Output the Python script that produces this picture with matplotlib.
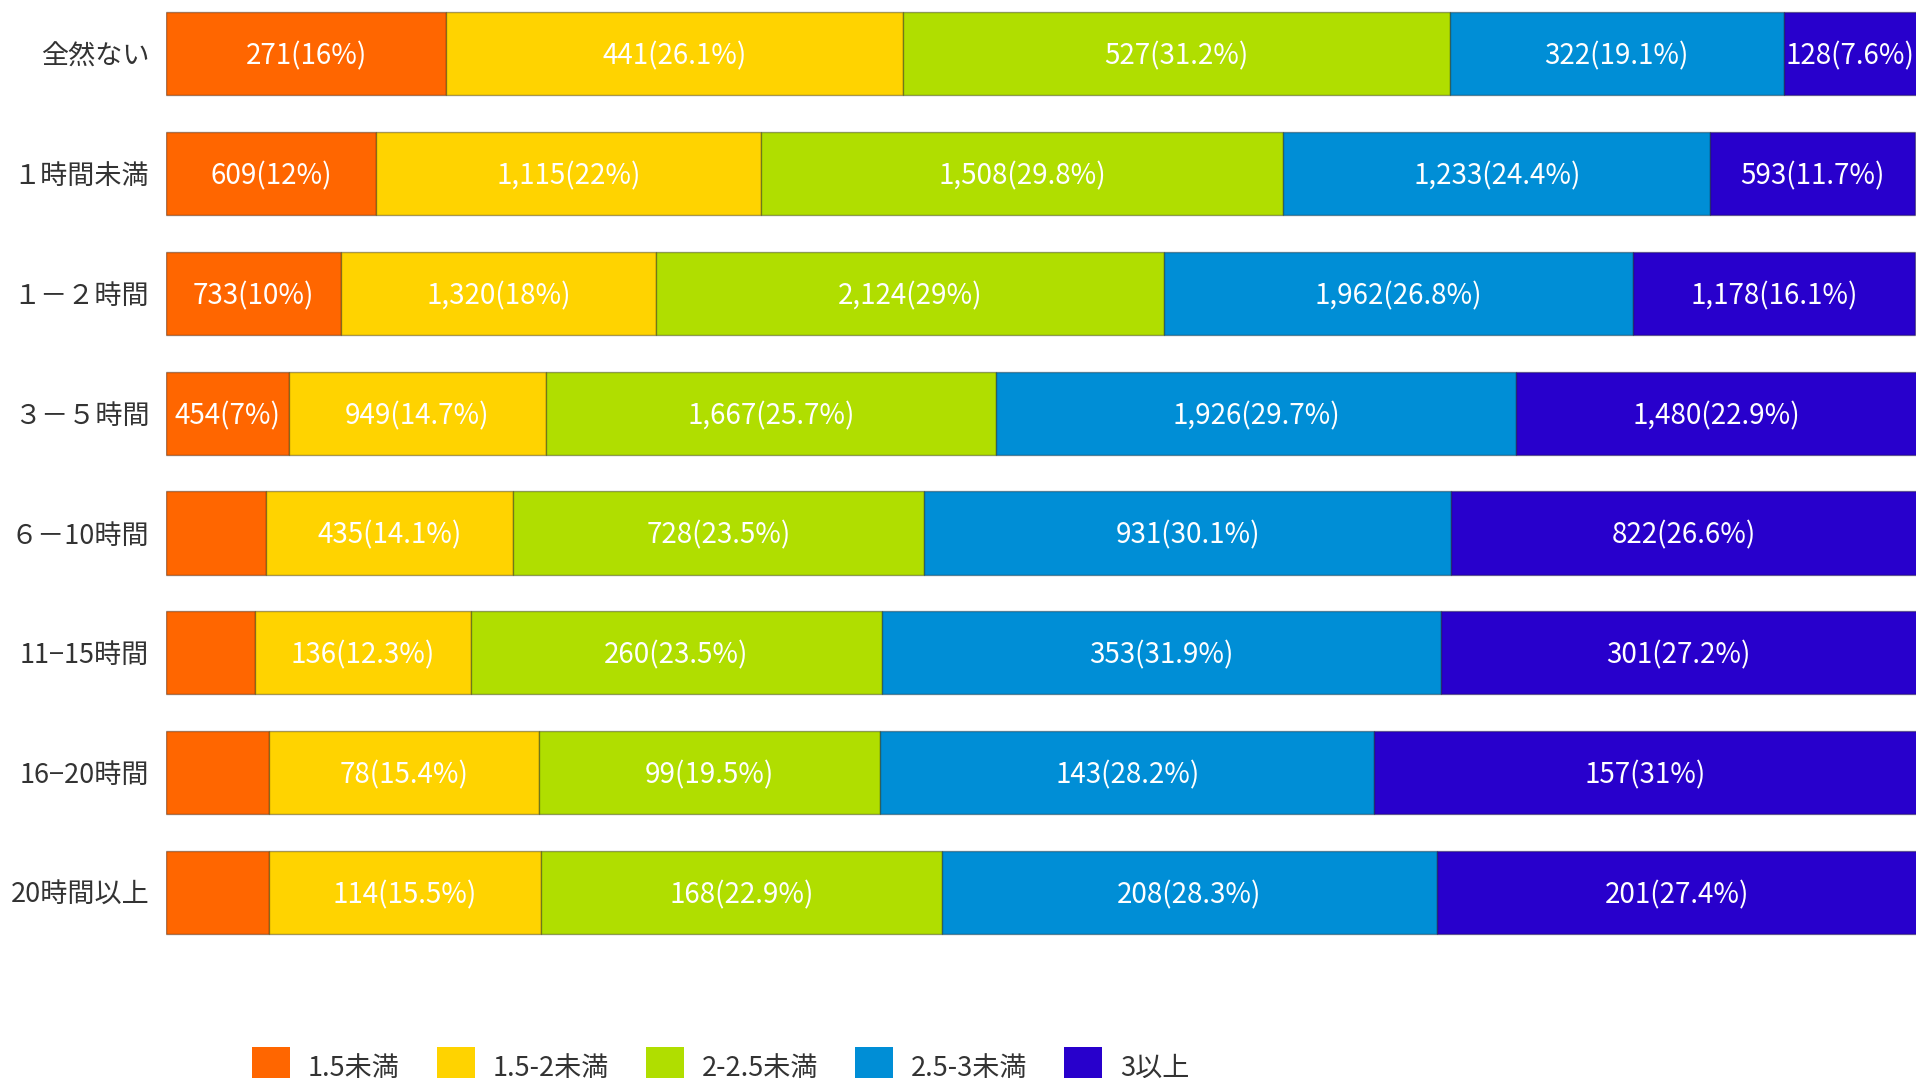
import numpy as np
import matplotlib.pyplot as plt
from matplotlib.patches import Patch

plt.rcParams['font.family'] = ['Noto Sans CJK JP', 'DejaVu Sans']

# rows (top to bottom)
categories = ["全然ない", "１時間未満", "１－２時間", "３－５時間",
              "６－10時間", "11−15時間", "16−20時間", "20時間以上"]

series_names = ["1.5未満", "1.5-2未満", "2-2.5未満", "2.5-3未満", "3以上"]
colors = ["#FF6600", "#FFD300", "#B0DE00", "#008ED6", "#2800CC"]

# counts per series (None = no label shown)
cnt_lt15 = [271, 609, 733, 454, None, None, None, None]
cnt_15_2 = [441, 1115, 1320, 949, 435, 136, 78, 114]
cnt_2_25 = [527, 1508, 2124, 1667, 728, 260, 99, 168]
cnt_25_3 = [322, 1233, 1962, 1926, 931, 353, 143, 208]
cnt_ge3 = [128, 593, 1178, 1480, 822, 301, 157, 201]

# shares in percent
pct_lt15 = [16, 12, 10, 7, 5.7, 5.1, 5.9, 5.9]
pct_15_2 = [26.1, 22, 18, 14.7, 14.1, 12.3, 15.4, 15.5]
pct_2_25 = [31.2, 29.8, 29, 25.7, 23.5, 23.5, 19.5, 22.9]
pct_25_3 = [19.1, 24.4, 26.8, 29.7, 30.1, 31.9, 28.2, 28.3]
pct_ge3 = [7.6, 11.7, 16.1, 22.9, 26.6, 27.2, 31, 27.4]

counts = [cnt_lt15, cnt_15_2, cnt_2_25, cnt_25_3, cnt_ge3]
pcts = [pct_lt15, pct_15_2, pct_2_25, pct_25_3, pct_ge3]

W, H = 1916, 1078
fig = plt.figure(figsize=(W / 100, H / 100), dpi=100)
left = 166 / W
ax = fig.add_axes([left, 0, 1 - left, 1])

y = np.arange(len(categories))
start = np.zeros(len(categories))
for name, col, cnt, pct in zip(series_names, colors, counts, pcts):
    pct = np.array(pct, dtype=float)
    bars = ax.barh(y, pct, left=start, height=0.693, color=col,
                   edgecolor=(0, 0, 0, 0.35), linewidth=1, label=name)
    labels = ["" if c is None else f"{c:,}({p:g}%)" for c, p in zip(cnt, pct)]
    anns = ax.bar_label(bars, labels=labels, label_type='center',
                        color='white', fontsize=20)
    # nudge labels slightly down
    for a in anns:
        a.xyann = (0, -2)
    start += pct

# 100% lands just past the right edge
ax.set_xlim(0, 99.94)
ax.set_ylim(8.549, -0.449)
ax.set_yticks(y)
ax.set_yticklabels(categories, fontsize=19.5, color='#333333')
ax.tick_params(axis='y', length=0, pad=12)
ax.set_xticks([])
for s in ax.spines.values():
    s.set_visible(False)

handles = [Patch(facecolor=c, label=n) for c, n in zip(colors, series_names)]
fig.legend(handles=handles, loc='center left',
           bbox_to_anchor=(252 / W, 1 - 1067 / H), ncol=5, frameon=False,
           fontsize=19.5, handlelength=1.42, handleheight=1.85,
           handletextpad=0.65, columnspacing=1.35, borderpad=0,
           borderaxespad=0, labelcolor='#333333')

plt.savefig("out.png", dpi=100)
